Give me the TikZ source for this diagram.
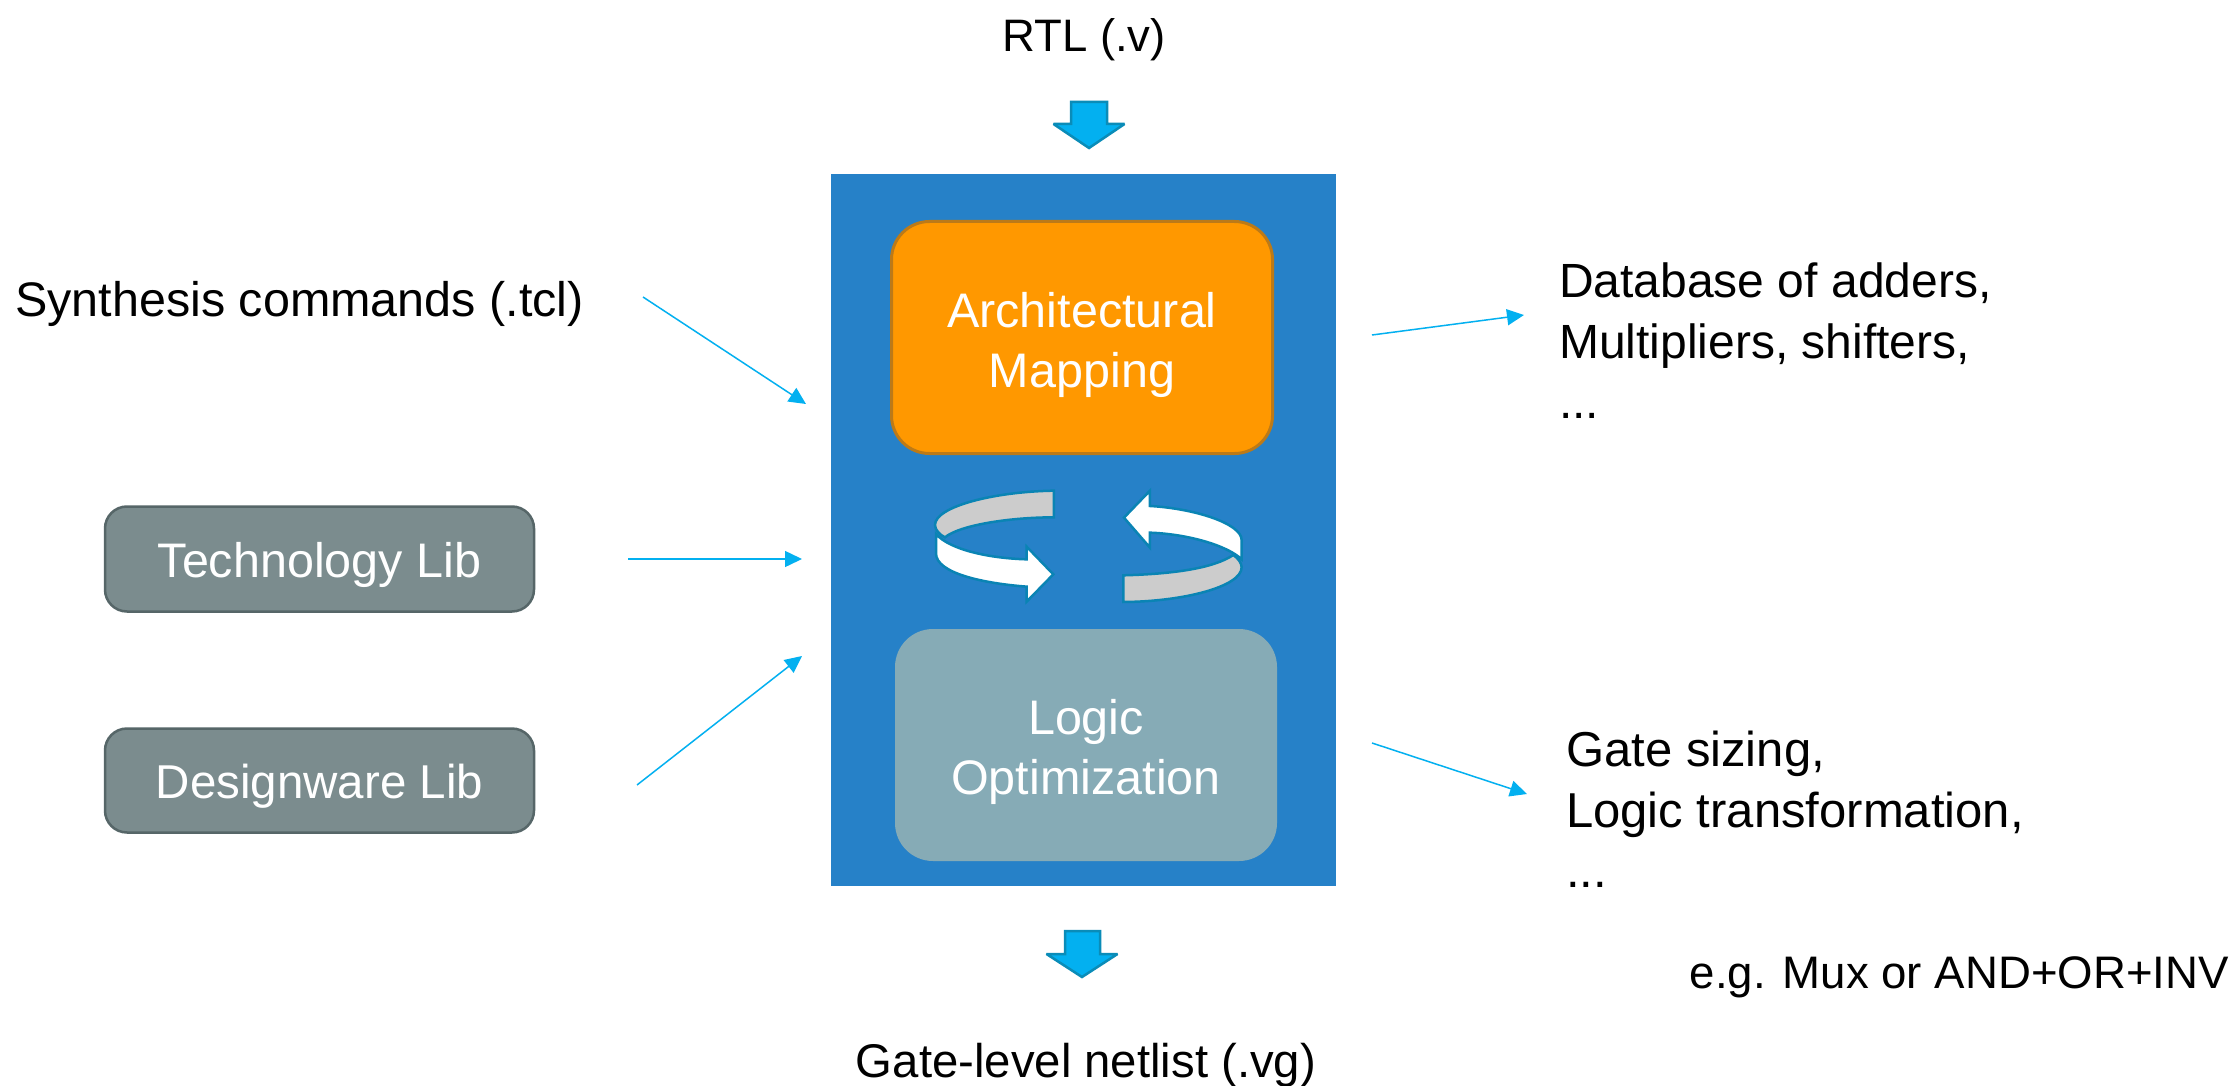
\documentclass[tikz,border=0pt]{standalone}
\usepackage{fontspec}
\setmainfont{Liberation Sans}
\usetikzlibrary{arrows.meta}
\definecolor{panelblue}{HTML}{2681C8}
\definecolor{orangebox}{HTML}{FF9800}
\definecolor{orangeedge}{HTML}{BC7A18}
\definecolor{logicbox}{HTML}{86ABB6}
\definecolor{libbox}{HTML}{7B8C8E}
\definecolor{libedge}{HTML}{566668}
\definecolor{skyarrow}{HTML}{03B0F0}
\definecolor{skyedge}{HTML}{0A8CB8}
\definecolor{ringedge}{HTML}{0A84B4}
\definecolor{ringgray}{HTML}{CCCCCC}
\tikzset{
  x=1pt,y=-1pt,
  lbl/.style={font=\fontsize{48}{60.5}\selectfont,text=black,inner sep=0pt,align=left},
  boxtxt/.style={font=\fontsize{48.5}{60}\selectfont,text=white,align=center,inner sep=0pt,yshift=-7pt},
  panelbox/.style={inner sep=0pt,rounded corners=38pt,minimum width=381pt,minimum height=232pt},
  libnode/.style={draw=libedge,line width=2.5pt,fill=libbox,rounded corners=22pt,inner sep=0pt,minimum width=429pt},
  feed/.style={draw=skyarrow,line width=1.5pt,-{Triangle[length=17pt,width=16pt]}},
  bigarrow/.style={draw=skyedge,line width=2.5pt,fill=skyarrow,line join=miter,miter limit=2},
  ring/.style={draw=ringedge,line width=2.5pt,line join=miter},
}
\begin{document}
\begin{tikzpicture}
\useasboundingbox (0,0) rectangle (2236,1086);
\fill[white] (0,0) rectangle (2236,1086);
\node[fill=panelblue,minimum width=505pt,minimum height=712pt,inner sep=0pt] (panel) at (1083.5,530) {};
\node[panelbox,draw=orangeedge,line width=3pt,fill=orangebox,label={[boxtxt]center:Architectural\\Mapping}] (arch) at (1082,337.5) {};
\node[panelbox,minimum width=382pt,fill=logicbox,label={[boxtxt]center:Logic\\Optimization}] (logic) at (1086,745) {};
\node[libnode,minimum height=105pt,label={[boxtxt,yshift=1pt]center:Technology Lib}] (tech) at (319.5,559) {};
\node[libnode,minimum height=104pt,label={[boxtxt,yshift=1pt,font=\fontsize{47.5}{60}\selectfont]center:Designware Lib}] (dw) at (319.5,780.5) {};
\node[lbl,font=\fontsize{45.5}{60}\selectfont] (rtl) at (1084,40) {RTL (.v)};
\node[lbl,anchor=west,font=\fontsize{48.5}{60}\selectfont] (syn) at (15,304) {Synthesis commands (.tcl)};
\node[lbl,anchor=north west] (db) at (1559,263) {Database of adders,\\Multipliers, shifters,\\...};
\node[lbl,anchor=north west,font=\fontsize{49}{60.5}\selectfont] (gate) at (1566,731) {Gate sizing,\\Logic transformation,\\...};
\node[lbl,anchor=east,font=\fontsize{45.6}{60}\selectfont] (eg) at (2229,977) {e.g. Mux or AND+OR+INV};
\node[lbl,font=\fontsize{47.3}{60}\selectfont] (net) at (1086,1065) {Gate-level netlist (.vg)};
\coordinate (a1) at (643,297); \coordinate (a2) at (806,404);
\coordinate (b1) at (628,559); \coordinate (b2) at (802,559);
\coordinate (c1) at (637,785); \coordinate (c2) at (802,656);
\coordinate (d1) at (1372,335); \coordinate (d2) at (1524,315);
\coordinate (e1) at (1372,743); \coordinate (e2) at (1527,794);
\draw[feed] (a1) -- (a2);
\draw[feed] (b1) -- (b2);
\draw[feed] (c1) -- (c2);
\draw[feed] (d1) -- (d2);
\draw[feed] (e1) -- (e2);
\draw[bigarrow] (1071,102) -- (1107,102) -- (1107,124) -- (1124.5,124) -- (1089,148) -- (1053.5,124) -- (1071,124) -- cycle;
\draw[bigarrow] (1065,931) -- (1100,931) -- (1100,954) -- (1117.5,954) -- (1082,977) -- (1046.5,954) -- (1065,954) -- cycle;
\begin{scope}[shift={(850,460)},x=0.3333pt,y=-0.3333pt]
  % left ring
  \draw[ring,fill=ringgray] (612,92) .. controls (430,95) and (255,140) .. (255,195) .. controls (255,210) and (270,225) .. (285,232) .. controls (330,195) and (480,172) .. (612,172) -- cycle;
  \draw[ring,fill=white] (258,222) .. controls (300,270) and (420,295) .. (530,298) -- (530,260) -- (610,343) -- (530,425) -- (530,380) .. controls (400,370) and (258,340) .. (258,280) -- cycle;
  % right ring
  \draw[ring,fill=ringgray] (820,346) .. controls (970,342) and (1090,325) .. (1150,285) .. controls (1165,295) and (1175,310) .. (1175,322) .. controls (1175,380) and (1000,425) .. (820,426) -- cycle;
  \draw[ring,fill=white] (1175,298) .. controls (1130,255) and (1010,222) .. (900,218) -- (900,263) -- (822,173) -- (900,92) -- (900,138) .. controls (1030,145) and (1175,190) .. (1175,240) -- cycle;
\end{scope}
\end{tikzpicture}
\end{document}
